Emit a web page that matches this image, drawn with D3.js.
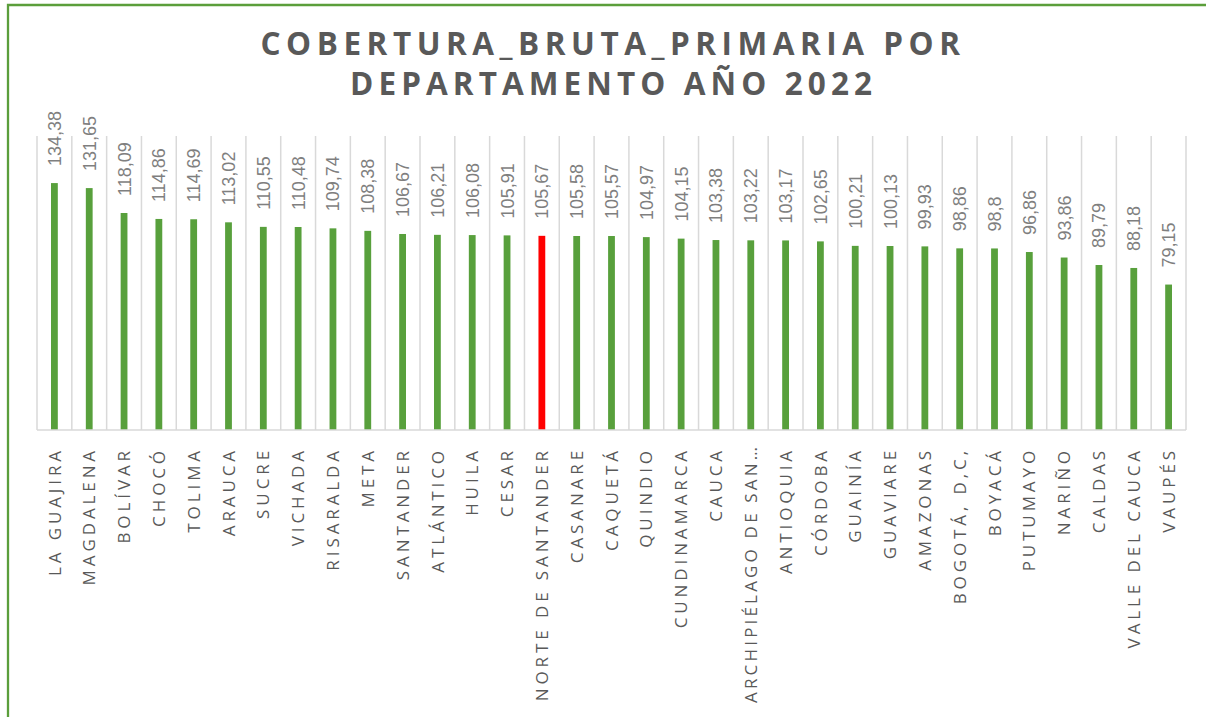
<!DOCTYPE html>
<html>
<head>
<meta charset="utf-8">
<script src="https://cdn.jsdelivr.net/npm/d3@7"></script>
<style>
  html, body { margin: 0; padding: 0; background: #fff; }
  svg { display: block; }
</style>
</head>
<body>
<svg id="chart" width="1206" height="717"></svg>
<script>
const titleLines = ["COBERTURA_BRUTA_PRIMARIA POR", "DEPARTAMENTO AÑO 2022"];
const departments = ["LA GUAJIRA","MAGDALENA","BOLÍVAR","CHOCÓ","TOLIMA","ARAUCA","SUCRE","VICHADA","RISARALDA","META","SANTANDER","ATLÁNTICO","HUILA","CESAR","NORTE DE SANTANDER","CASANARE","CAQUETÁ","QUINDIO","CUNDINAMARCA","CAUCA","ARCHIPIÉLAGO DE SAN…","ANTIOQUIA","CÓRDOBA","GUAINÍA","GUAVIARE","AMAZONAS","BOGOTÁ, D,C,","BOYACÁ","PUTUMAYO","NARIÑO","CALDAS","VALLE DEL CAUCA","VAUPÉS"];
const coverage = [134.38,131.65,118.09,114.86,114.69,113.02,110.55,110.48,109.74,108.38,106.67,106.21,106.08,105.91,105.67,105.58,105.57,104.97,104.15,103.38,103.22,103.17,102.65,100.21,100.13,99.93,98.86,98.8,96.86,93.86,89.79,88.18,79.15];
const highlighted = ["NORTE DE SANTANDER"];
const yDomain = [0, 160];

const svg = d3.select("#chart");
const plot = { left: 37, right: 1186, top: 136, bottom: 430 };

// outer border (clipped at right/bottom like the reference)
svg.append("path")
  .attr("d", `M8,717 L8,5 L1206,5`)
  .attr("fill", "none").attr("stroke", "#5b9e3b").attr("stroke-width", 2.3);

// title
const titleSpec = [{ y: 55, x0: 260.5, x1: 960 }, { y: 95, x0: 350, x1: 872 }];
titleLines.forEach((t, i) => {
  svg.append("text")
    .attr("x", titleSpec[i].x0)
    .attr("y", titleSpec[i].y)
    .attr("textLength", titleSpec[i].x1 - titleSpec[i].x0)
    .attr("lengthAdjust", "spacing")
    .attr("font-family", "'Open Sans', sans-serif")
    .attr("font-weight", 700)
    .attr("font-size", 31.5)
    .attr("fill", "#595959")
    .text(t);
});

const x = d3.scaleBand().domain(departments).range([plot.left, plot.right]).paddingInner(0).paddingOuter(0);
const y = d3.scaleLinear().domain(yDomain).range([plot.bottom, plot.top]);

// vertical category gridlines
const gridXs = departments.map(d => x(d)).concat([plot.right]);
svg.append("g").selectAll("line").data(gridXs).join("line")
  .attr("x1", d => d).attr("x2", d => d)
  .attr("y1", plot.top).attr("y2", plot.bottom)
  .attr("stroke", "#d9d9d9").attr("stroke-width", 1.5);

// bars
const barW = 6.8;
svg.append("g").selectAll("rect").data(departments).join("rect")
  .attr("x", d => x(d) + x.bandwidth() / 2 - barW / 2)
  .attr("width", barW)
  .attr("y", (d, i) => y(coverage[i]))
  .attr("height", (d, i) => y(0) - y(coverage[i]))
  .attr("fill", d => highlighted.includes(d) ? "#ff0000" : "#58a03c");

// baseline axis
svg.append("line")
  .attr("x1", plot.left).attr("x2", plot.right)
  .attr("y1", plot.bottom).attr("y2", plot.bottom)
  .attr("stroke", "#d9d9d9").attr("stroke-width", 1.5);

// value labels
const fmt = v => String(v).replace(".", ",");
svg.append("g").selectAll("text").data(departments).join("text")
  .attr("transform", (d, i) => `translate(${x(d) + x.bandwidth() / 2},${y(coverage[i]) - 17}) rotate(-90)`)
  .attr("dy", "0.36em")
  .attr("text-anchor", "start")
  .attr("font-family", "'Liberation Sans', Arial, sans-serif")
  .attr("font-size", 18)
  .attr("fill", "#7f7f7f")
  .text((d, i) => fmt(coverage[i]));

// category labels
const maxLabel = 256;
svg.append("g").selectAll("text").data(departments).join("text")
  .attr("transform", d => `translate(${x(d) + x.bandwidth() / 2},${plot.bottom + 17}) rotate(-90)`)
  .attr("dy", "0.36em")
  .attr("text-anchor", "end")
  .attr("font-family", "'Open Sans', sans-serif")
  .attr("font-size", 17)
  .attr("letter-spacing", "3.9px")
  .attr("fill", "#595959")
  .text(d => d)
  .each(function () {
    const len = this.getComputedTextLength();
    if (len > maxLabel) {
      d3.select(this).attr("letter-spacing", null)
        .attr("textLength", maxLabel).attr("lengthAdjust", "spacing");
    }
  });
</script>
</body>
</html>
